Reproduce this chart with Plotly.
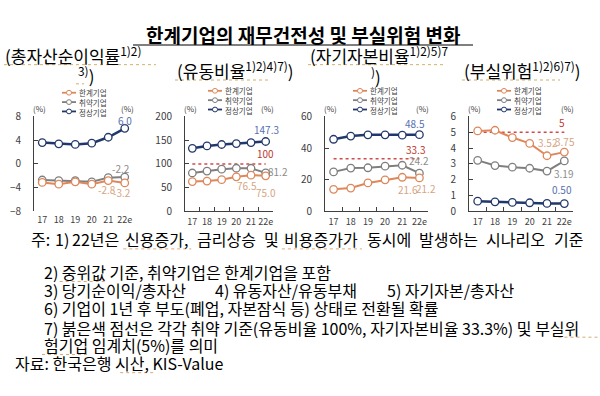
import plotly.graph_objects as go

# ---------------- data ----------------
years = ["17", "18", "19", "20", "21", "22e"]
series_names = ["한계기업", "취약기업", "정상기업"]

roa_marginal = [-3.1, -3.4, -3.0, -3.4, -2.8, -3.2]
roa_vulnerable = [-2.7, -2.8, -2.8, -3.0, -2.3, -2.2]
roa_normal = [3.6, 3.4, 3.3, 3.5, 4.5, 6.0]

cur_marginal = [63.0, 64.0, 67.0, 73.0, 76.5, 75.0]
cur_vulnerable = [81.0, 85.0, 89.0, 91.0, 91.0, 81.2]
cur_normal = [133.0, 138.0, 141.0, 143.0, 145.0, 147.3]

eq_marginal = [14.0, 14.8, 18.0, 20.0, 21.6, 21.2]
eq_vulnerable = [25.0, 27.4, 27.6, 28.6, 29.2, 24.2]
eq_normal = [45.6, 47.6, 48.4, 48.4, 48.2, 48.5]

risk_marginal = [5.09, 5.13, 4.67, 4.30, 3.52, 3.75]
risk_vulnerable = [3.23, 2.90, 2.80, 2.73, 2.55, 3.19]
risk_normal = [0.65, 0.61, 0.57, 0.55, 0.51, 0.50]

thresholds = [None, 100, 33.3, 5]
y_ranges = [[-8, 8], [0, 200], [0, 60], [0, 6]]
y_dticks = [4, 50, 20, 1]

panels = [
    (roa_marginal, roa_vulnerable, roa_normal),
    (cur_marginal, cur_vulnerable, cur_normal),
    (eq_marginal, eq_vulnerable, eq_normal),
    (risk_marginal, risk_vulnerable, risk_normal),
]

# ---------------- style ----------------
W, H = 600, 396
FONT = "Noto Sans CJK KR"
C_OR, C_GR, C_NV = "#DE875A", "#7F7F7F", "#22386B"
L_OR, L_GR, L_NV = "#D6A583", "#8C8C8C", "#5670AE"
C_RED = "#C0392B"
AX = "#404040"
SQ = "#D9A878"
colors = [C_OR, C_GR, C_NV]
widths = [2, 2, 2.5]


def px(x):
    return x / W


def py(y):
    return 1 - y / H


x_dom_px = [(34, 133), (185, 273), (325, 428), (469, 573)]
y_dom = [py(211), py(112)]

fig = go.Figure()
layout = dict(
    width=W, height=H, margin=dict(l=0, r=0, t=0, b=0),
    paper_bgcolor="white", plot_bgcolor="white", showlegend=False,
    font=dict(family=FONT, color=AX, size=10),
)
shapes = []
annots = []

for i, (series, yr, dt) in enumerate(zip(panels, y_ranges, y_dticks)):
    n = i + 1
    xa = "x" if n == 1 else f"x{n}"
    ya = "y" if n == 1 else f"y{n}"
    dom = [px(x_dom_px[i][0]), px(x_dom_px[i][1])]
    bottom_line = (i != 0)
    layout[f"xaxis{n}"] = dict(
        domain=dom, anchor=ya, type="category", range=[-0.5, 5.5],
        showline=bottom_line, linecolor=AX, linewidth=1,
        ticks="inside" if bottom_line else "", ticklen=4, tickcolor=AX,
        tickson="boundaries", showgrid=False, zeroline=False, tickangle=0,
        tickfont=dict(size=9, color=AX), ticklabelstandoff=2,
    )
    layout[f"yaxis{n}"] = dict(
        domain=y_dom, anchor=xa, range=yr, dtick=dt,
        showline=True, linecolor=AX, linewidth=1,
        ticks="inside", ticklen=4, tickcolor=AX,
        showgrid=False, zeroline=False,
        tickfont=dict(size=10, color=AX), ticklabelstandoff=10,
    )
    layout[f"yaxis{n+4}"] = dict(
        overlaying=ya, anchor=xa, side="right", range=yr, dtick=dt,
        showline=True, linecolor=AX, linewidth=1,
        ticks="inside", ticklen=4, tickcolor=AX,
        showgrid=False, zeroline=False,
        tickfont=dict(size=10, color=AX), ticklabelstandoff=7,
    )
    if thresholds[i] is not None:
        fig.add_trace(go.Scatter(
            x=years, y=[thresholds[i]] * len(years), xaxis=xa, yaxis=ya,
            mode="lines", line=dict(color="#D24B4B", width=1.5, dash="dot"),
            hoverinfo="skip"))
    for k in [1, 0, 2]:
        fig.add_trace(go.Scatter(
            x=years, y=series[k], xaxis=xa, yaxis=ya, mode="lines+markers",
            name=series_names[k],
            line=dict(color=colors[k], width=widths[k]),
            marker=dict(size=7.5, color="white",
                        line=dict(color=colors[k], width=1.3)),
        ))
    for xx in (x_dom_px[i][0] + 5, x_dom_px[i][1] - 6):
        annots.append(dict(xref="paper", yref="paper", x=px(xx), y=py(104),
                           text="(%)", showarrow=False,
                           font=dict(size=8, color=AX), xanchor="center", yanchor="middle"))

# zero axis line for first panel
zero_pos = y_dom[0] + (y_dom[1] - y_dom[0]) * (0 - y_ranges[0][0]) / (y_ranges[0][1] - y_ranges[0][0])
layout["xaxis5"] = dict(
    overlaying="x", anchor="free", position=zero_pos, type="linear",
    range=[-0.5, 5.5], tickvals=[0.5, 1.5, 2.5, 3.5, 4.5],
    showticklabels=False, showline=True, linecolor=AX, linewidth=1,
    ticks="inside", ticklen=4, tickcolor=AX, showgrid=False, zeroline=False,
)


# ---------------- data labels ----------------
def lab(n, xi, yv, text, color, dx, dy, size=10):
    xa = "x" if n == 1 else f"x{n}"
    ya = "y" if n == 1 else f"y{n}"
    annots.append(dict(xref=xa, yref=ya, x=xi, y=yv, text=text, showarrow=False,
                       xshift=dx, yshift=-dy, font=dict(size=size, color=color),
                       xanchor="center", yanchor="middle"))


lab(1, 5, roa_normal[5], f"{roa_normal[5]:.1f}", L_NV, 0, -8)
lab(1, 5, roa_vulnerable[5], f"{roa_vulnerable[5]:.1f}", L_GR, -4, -9)
lab(1, 4, roa_marginal[4], f"{roa_marginal[4]:.1f}", L_OR, -1, 9)
lab(1, 5, roa_marginal[5], f"{roa_marginal[5]:.1f}", L_OR, -3, 10)

lab(2, 5, cur_normal[5], f"{cur_normal[5]:.1f}", L_NV, 1, -12)
lab(2, 5, thresholds[1], f"{thresholds[1]}", C_RED, 0, -10)
lab(2, 5, cur_vulnerable[5], f"{cur_vulnerable[5]:.1f}", L_GR, 12, -1)
lab(2, 4, cur_marginal[4], f"{cur_marginal[4]:.1f}", L_OR, -4, 10)
lab(2, 5, cur_marginal[5], f"{cur_marginal[5]:.1f}", L_OR, 0, 17)

lab(3, 5, eq_normal[5], f"{eq_normal[5]:.1f}", L_NV, -4, -11)
lab(3, 5, thresholds[2], f"{thresholds[2]}", C_RED, -4, -9)
lab(3, 5, eq_vulnerable[5], f"{eq_vulnerable[5]:.1f}", L_GR, 0, -13)
lab(3, 4, eq_marginal[4], f"{eq_marginal[4]:.1f}", L_OR, 6, 12)
lab(3, 5, eq_marginal[5], f"{eq_marginal[5]:.1f}", L_OR, 7, 11)

lab(4, 5, thresholds[3], f"{thresholds[3]}", C_RED, -2, -10)
lab(4, 4, risk_marginal[4], f"{risk_marginal[4]:.2f}", L_OR, 1, -13)
lab(4, 5, risk_marginal[5], f"{risk_marginal[5]:.2f}", L_OR, 1, -11)
lab(4, 5, risk_vulnerable[5], f"{risk_vulnerable[5]:.2f}", L_GR, -1, 13)
lab(4, 5, risk_normal[5], f"{risk_normal[5]:.2f}", L_NV, -2, -14)

# ---------------- legends (drawn manually; one text block per panel) ----------------
LG_FS = 7.5
LG_STEP = 1.3 * LG_FS  # plotly line spacing
legend_pos = [(62, 97), (208, 95), (353, 95), (497, 95)]  # symbol x, middle-row y
for (sx, yc) in legend_pos:
    for k in range(3):
        yy = yc + (k - 1) * LG_STEP
        shapes.append(dict(type="line", xref="paper", yref="paper",
                           x0=px(sx), x1=px(sx + 14), y0=py(yy), y1=py(yy),
                           line=dict(color=colors[k], width=1.8)))
        shapes.append(dict(type="circle", xref="paper", yref="paper",
                           x0=px(sx + 4.5), x1=px(sx + 9.5), y0=py(yy - 2.5), y1=py(yy + 2.5),
                           fillcolor="white", line=dict(color=colors[k], width=1)))
    annots.append(dict(xref="paper", yref="paper", x=px(sx + 16), y=py(yc),
                       text="<br>".join(series_names), showarrow=False, xanchor="left",
                       yanchor="middle", align="left", borderpad=0,
                       font=dict(size=LG_FS, color=AX)))

# ---------------- title & subtitles ----------------
annots.append(dict(xref="paper", yref="paper", x=px(303), y=py(27),
                   text="<b>한계기업의 재무건전성 및 부실위험 변화</b>", showarrow=False,
                   xanchor="center", yanchor="middle", font=dict(size=19, color="black")))
shapes.append(dict(type="line", xref="paper", yref="paper", x0=px(133), x1=px(473),
                   y0=py(37.5), y1=py(37.5), line=dict(color="black", width=1.2)))

subs = [
    ("(총자산순이익률<sup>1)2)</sup>", 3, 48),
    ("<sup>3)</sup>)", 76, 69),
    ("(유동비율<sup>1)2)4)7)</sup>)", 175, 64),
    ("(자기자본비율<sup>1)2)5)7</sup>", 308, 48),
    ("<sup>)</sup>)", 369, 70),
    ("(부실위험<sup>1)2)6)7)</sup>)", 462, 64),
]
for t, x, y in subs:
    annots.append(dict(xref="paper", yref="paper", x=px(x), y=py(y), text=t,
                       showarrow=False, xanchor="left", yanchor="middle",
                       font=dict(size=17, color="black")))
for x0, x1, y in [(4, 156, 58), (76, 84, 78), (175, 270, 74), (308, 445, 58), (462, 560, 74)]:
    shapes.append(dict(type="line", xref="paper", yref="paper", x0=px(x0), x1=px(x1),
                       y0=py(y), y1=py(y), line=dict(color="#D2B06A", width=1, dash="dot")))


# ---------------- footnotes ----------------
def est_width(s, size):
    w = 0.0
    for ch in s:
        if "\uac00" <= ch <= "\ud7a3":
            w += 1.0
        elif ch.isdigit():
            w += 0.55
        elif ch in "()":
            w += 0.33
        elif ch in ",.:":
            w += 0.25
        elif ch == " ":
            w += 0.224
        elif ch == "%":
            w += 0.85
        else:
            w += 0.55
    return w * size


def squiggle(x0, x1, y):
    shapes.append(dict(type="line", xref="paper", yref="paper", x0=px(x0), x1=px(x1),
                       y0=py(y), y1=py(y), line=dict(color=SQ, width=1, dash="dot")))


FN = 16
fn1_words = ["주:", "1)", "22년은", "신용증가,", "금리상승", "및", "비용증가가",
             "동시에", "발생하는", "시나리오", "기준"]
left, right = 29, 584
natural = sum(est_width(w, FN) for w in fn1_words)
gap = max((right - left - natural) / (len(fn1_words) - 1), 3.5)
cx = left
for w in fn1_words:
    annots.append(dict(xref="paper", yref="paper", x=px(cx), y=py(240), text=w,
                       showarrow=False, xanchor="left", yanchor="middle",
                       font=dict(size=FN, color="black")))
    if w in ("신용증가,", "비용증가가"):
        squiggle(cx, cx + est_width(w, FN), 250)
    cx += est_width(w, FN) + gap

notes = [
    ("2) 중위값 기준, 취약기업은 한계기업을 포함", 42, 274),
    ("3) 당기순이익/총자산", 42, 293),
    ("4) 유동자산/유동부채", 213, 293),
    ("5) 자기자본/총자산", 385, 293),
    ("6) 기업이 1년 후 부도(폐업, 자본잠식 등) 상태로 전환될 확률", 42, 312),
    ("7) 붉은색 점선은 각각 취약 기준(유동비율 100%, 자기자본비율 33.3%) 및 부실위", 42, 332),
    ("험기업 임계치(5%)를 의미", 42, 350),
    ("자료: 한국은행 시산, KIS-Value", 13, 369),
]
for t, x, y in notes:
    annots.append(dict(xref="paper", yref="paper", x=px(x), y=py(y), text=t,
                       showarrow=False, xanchor="left", yanchor="middle",
                       font=dict(size=FN, color="black")))

# spell-check style dotted underlines seen in the source
x2 = 42 + est_width("2) ", FN)
squiggle(x2, x2 + est_width("중위값", FN), 284)
x7 = 42 + est_width("7) 붉은색 점선은 각각 취약 기준(유동비율 100%, 자기자본비율 33.3%) 및 ", FN)
squiggle(x7, x7 + est_width("부실위", FN), 342)
squiggle(42, 42 + est_width("험기업", FN), 360)
xs = 13 + est_width("자료: 한국은행 ", FN)
squiggle(xs, xs + est_width("시산,", FN), 379)

layout["shapes"] = shapes
layout["annotations"] = annots
fig.update_layout(**layout)
fig.write_html("out.html", config={"displayModeBar": False},
               post_script="document.body.style.margin='0px';document.body.style.padding='0px';")
